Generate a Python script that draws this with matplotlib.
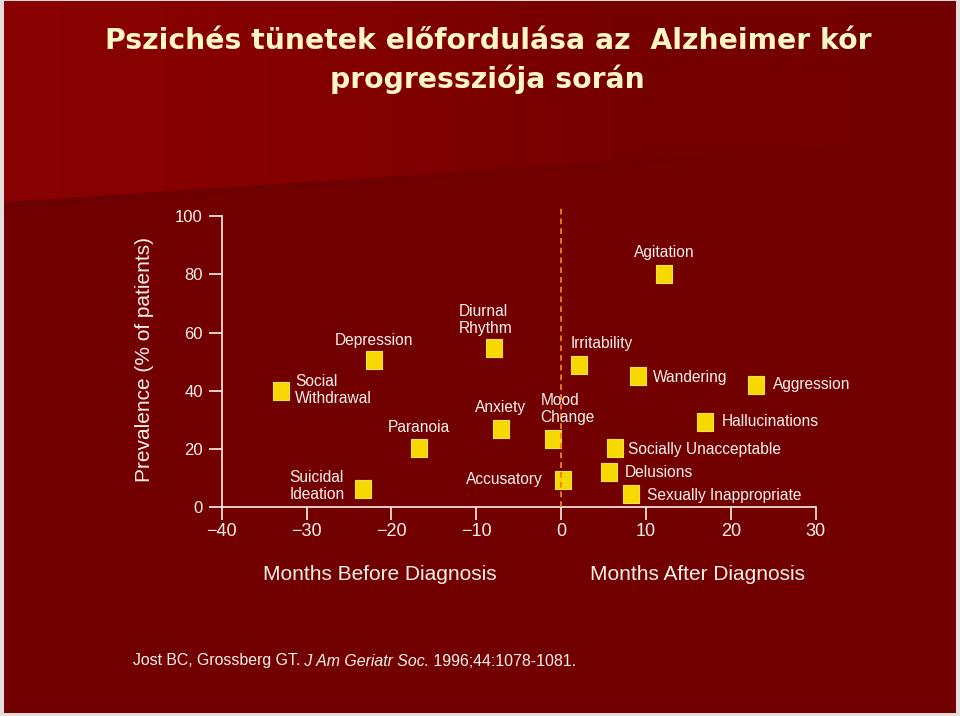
import numpy as np
import matplotlib
matplotlib.use("Agg")
import matplotlib.pyplot as plt
from matplotlib.patches import Rectangle, Polygon
from matplotlib.colors import LinearSegmentedColormap

plt.rcParams['font.family'] = ['Liberation Sans', 'DejaVu Sans']

# Data: symptom, months relative to diagnosis, prevalence (%)
symptoms = ["Social\nWithdrawal", "Depression", "Paranoia", "Suicidal\nIdeation",
            "Diurnal\nRhythm", "Anxiety", "Mood\nChange", "Accusatory",
            "Irritability", "Agitation", "Wandering", "Aggression",
            "Hallucinations", "Socially Unacceptable", "Delusions",
            "Sexually Inappropriate"]
months = [-33.0, -22.1, -16.8, -23.4,
          -7.9, -7.1, -1.0, 0.2,
          2.1, 12.1, 9.0, 23.0,
          16.9, 6.4, 5.6, 8.2]
prevalence = [40, 50.6, 20.3, 6.3,
              54.7, 26.8, 23.4, 9.4,
              48.7, 80.2, 45.1, 42.1,
              29.4, 20.3, 12.0, 4.5]
xticks = [-40, -30, -20, -10, 0, 10, 20, 30]
yticks = [0, 20, 40, 60, 80, 100]

# label placement: offset in pixels from marker, horizontal alignment
label_layout = [((14, 1), 'left'), ((0, 19), 'center'), ((0, 21), 'center'), ((-18, 3), 'right'),
                ((-35, 28), 'left'), ((0, 22), 'center'), ((-12, 30), 'left'), ((-20, 0), 'right'),
                ((-8, 22), 'left'), ((0, 21), 'center'), ((15, -2), 'left'), ((17, 0), 'left'),
                ((17, 0), 'left'), ((13, -1), 'left'), ((16, 0), 'left'), ((16, -1), 'left')]

TXT = '#F8F0EA'
fig = plt.figure(figsize=(9.6, 7.16), dpi=100)
fig.patch.set_facecolor('#E6DCDC')

# slide background
bg = fig.add_axes([0, 0, 1, 1], zorder=-1)
bg.add_patch(Rectangle((4, 1), 952, 712, facecolor='#720000', edgecolor='none', zorder=1))
top = Polygon([(4, 1), (956, 1), (956, 140), (4, 202)], closed=True,
              facecolor='none', edgecolor='none')
bg.add_patch(top)
cmap = LinearSegmentedColormap.from_list('bgred', ['#8A0202', '#840000', '#760000', '#730000'])
im = bg.imshow(np.linspace(0, 1, 256).reshape(1, -1), cmap=cmap, aspect='auto',
               extent=(4, 956, 202, 1), interpolation='bicubic', zorder=2)
im.set_clip_path(top)
band = Polygon([(4, 202), (700, 156), (700, 160), (4, 210)], closed=True,
               facecolor='#680000', edgecolor='none', alpha=0.45, zorder=3)
bg.add_patch(band)
bg.set_xlim(0, 960)
bg.set_ylim(716, 0)
bg.axis('off')

title_font = dict(family='DejaVu Sans', fontsize=20.3, fontweight='bold', color='#FFF6C6')
fig.text(488, 716 - 41, "Pszichés tünetek előfordulása az  Alzheimer kór",
         transform=None, ha='center', va='center', **title_font)
fig.text(487, 716 - 79, "progressziója során", transform=None, ha='center', va='center',
         **title_font)

ax = fig.add_axes([221.7 / 960, 1 - 507.3 / 716, 594 / 960, 291.3 / 716])
ax.set_facecolor('none')
ax.set_xlim(-40, 30)
ax.set_ylim(0, 100)
for s in ['top', 'right']:
    ax.spines[s].set_visible(False)
for s in ['left', 'bottom']:
    ax.spines[s].set_color(TXT)
    ax.spines[s].set_linewidth(1.2)
ax.set_xticks(xticks)
ax.set_yticks(yticks)
ax.set_xticklabels([f"{v}".replace('-', '\u2212') for v in xticks])
ax.tick_params(axis='both', colors=TXT, length=9.5, width=1.2, direction='out')
ax.tick_params(axis='x', labelsize=13, pad=2)
ax.tick_params(axis='y', labelsize=12, pad=4)

# diagnosis marker line
ax.plot([0, 0], [0, 103], color='#F0801F', lw=1.3, linestyle=(0, (3.2, 2.2)),
        zorder=5, clip_on=False)

sq = [(-15, -17), (15, -17), (15, 17), (-15, 17), (-15, -17)]
ax.plot(months, prevalence, linestyle='none', marker=sq, markersize=12.6,
        markerfacecolor='#F7D900', markeredgecolor='#F4E050', markeredgewidth=0.8,
        zorder=4, clip_on=False)

for name, x, y, (off, ha) in zip(symptoms, months, prevalence, label_layout):
    ax.annotate(name, (x, y), xytext=off, textcoords='offset pixels', ha=ha,
                va='center', fontsize=11.2, color=TXT, multialignment='left',
                linespacing=1.15, zorder=6, annotation_clip=False)

fig.text(145, 716 - 360, "Prevalence (% of patients)", transform=None, rotation=90,
         ha='center', va='center', fontsize=15, color=TXT)
fig.text(380, 716 - 574, "Months Before Diagnosis", transform=None, ha='center',
         va='center', fontsize=15, color=TXT)
fig.text(697, 716 - 574, "Months After Diagnosis", transform=None, ha='center',
         va='center', fontsize=15, color=TXT)

# citation, journal name in italics
cite = 11.4
t1 = fig.text(133, 716 - 661, "Jost BC, Grossberg GT.", transform=None, ha='left',
              va='center', fontsize=cite, color=TXT)
a2 = ax.annotate(" J Am Geriatr Soc.", xy=(1, 0), xycoords=t1, ha='left', va='bottom',
                 fontsize=cite, style='italic', color=TXT, annotation_clip=False)
ax.annotate(" 1996;44:1078-1081.", xy=(1, 0), xycoords=a2, ha='left', va='bottom',
            fontsize=cite, color=TXT, annotation_clip=False)

fig.savefig("out.png", dpi=100, facecolor=fig.get_facecolor())
